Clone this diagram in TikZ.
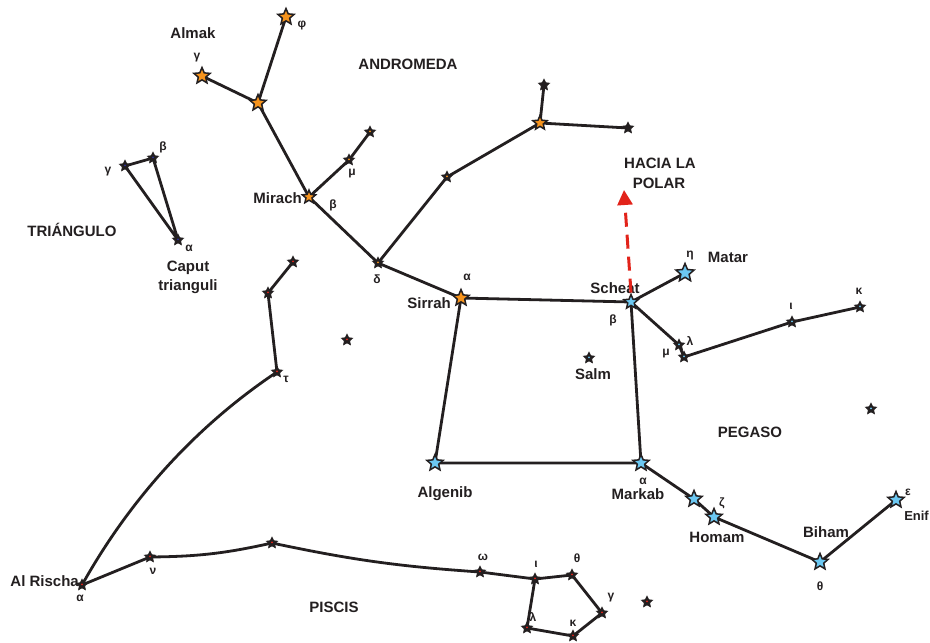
\documentclass[tikz,border=0pt]{standalone}
\usepackage{fontspec}
\setmainfont{Liberation Sans}
\usetikzlibrary{shapes.geometric,arrows.meta,backgrounds}
\definecolor{ink}{HTML}{231F20}
\definecolor{andorange}{HTML}{F7941D}
\definecolor{pegblue}{HTML}{6CC8F2}
\definecolor{arrowred}{HTML}{E2231A}
\definecolor{tridot}{HTML}{2E3192}
\begin{document}
\begin{tikzpicture}[x=1pt,y=-1pt,
  conn/.style={draw=ink, line width=2.8pt, line join=round, line cap=round},
  bigstar/.style={star, star points=5, star point ratio=2.2, minimum size=#1, inner sep=0pt, draw=ink, line width=1.5pt},
  andstar/.style={bigstar=#1, fill=andorange}, andstar/.default=17pt,
  pegstar/.style={bigstar=#1, fill=pegblue}, pegstar/.default=17pt,
  minor/.style={star, star points=5, star point ratio=2, minimum size=11pt, inner sep=0pt, fill=ink, draw=ink, line width=1pt,
    path picture={\fill[#1] (path picture bounding box.center) circle (1pt);}},
  lbl/.style={font=\fontsize{15}{15}\selectfont\bfseries, inner sep=0pt, text=ink},
  grk/.style={font=\fontsize{12}{12}\selectfont\bfseries, inner sep=0pt, text=ink},
  polar/.style={draw=arrowred, line width=3pt, dash pattern=on 14pt off 8pt, -{Triangle[length=15pt,width=15pt]}}
]
\useasboundingbox (0,0) rectangle (930,643);

% ---------------- Andromeda
\node[andstar] (sirrah) at (461,298) {};
\node[minor=andorange] (andD) at (378,263) {};
\node[andstar=14pt] (mirach) at (309,197) {};
\node[minor=andorange] (andMu) at (349,160) {};
\node[minor=andorange] (andNu) at (370,132) {};
\node[andstar] (and1) at (258,103) {};
\node[andstar] (almak) at (202,76) {};
\node[andstar] (andPhi) at (286,17) {};
\node[minor=andorange] (andPi) at (447,177) {};
\node[andstar=15pt] (andO) at (540,123) {};
\node[minor=ink] (andK) at (544,85) {};
\node[minor=ink] (andI) at (628,128) {};

\node[lbl] (tAlmak) at (193,33) {Almak};
\node[grk] (gAlmak) at (197,58) {γ};
\node[grk] (gPhi) at (302,26) {φ};
\node[lbl,anchor=east] (tMirach) at (302,198) {Mirach};
\node[grk] (gMirach) at (333,205) {β};
\node[grk] (gMu) at (352,174) {μ};
\node[grk] (gD) at (377,279) {δ};
\node[grk] (gSirrah) at (467,277) {α};
\node[lbl,anchor=east] (tSirrah) at (451,303) {Sirrah};
\node[lbl] (tAnd) at (408,64) {ANDROMEDA};

% ---------------- Pegasus
\node[pegstar=15pt] (scheat) at (631,302) {};
\node[pegstar=19pt] (matar) at (685,273) {};
\node[pegstar] (markab) at (641,463) {};
\node[pegstar] (algenib) at (435,463) {};
\node[minor=pegblue] (salm) at (589,358) {};
\node[pegstar] (pegXi) at (694,499) {};
\node[pegstar] (homam) at (714,517) {};
\node[pegstar] (biham) at (820,562) {};
\node[pegstar] (enif) at (896,500) {};
\node[minor=pegblue] (pegLam) at (679,345) {};
\node[minor=pegblue] (pegMu) at (684,357) {};
\node[minor=pegblue] (pegI) at (792,322) {};
\node[minor=pegblue] (pegK) at (860,307) {};
\node[minor=pegblue] (pegLone) at (871,409) {};

\node[lbl] (tScheat) at (615,288) {Scheat};
\node[grk] (gScheat) at (613,320) {β};
\node[grk] (gMatar) at (690,256) {η};
\node[lbl] (tMatar) at (728,257) {Matar};
\node[grk] (gLam) at (666,354) {μ};
\node[grk] (gMu2) at (690,341) {λ};
\node[grk] (gI) at (791,306) {ι};
\node[grk] (gK) at (859,291) {κ};
\node[lbl] (tSalm) at (593,374) {Salm};
\node[lbl] (tPeg) at (750,432) {PEGASO};
\node[grk] (gMarkab) at (643,481) {α};
\node[lbl] (tMarkab) at (638,494) {Markab};
\node[lbl] (tAlgenib) at (445,494) {Algenib};
\node[grk] (gHomam) at (722,503) {ζ};
\node[lbl] (tHomam) at (717,537) {Homam};
\node[lbl] (tBiham) at (826,532) {Biham};
\node[grk] (gBiham) at (820,586) {θ};
\node[grk] (gEnif) at (908,492) {ε};
\node[lbl,font=\fontsize{13}{13}\selectfont\bfseries,anchor=east] (tEnif) at (929,516) {Enif};

\coordinate (polarend) at (624,190);
\node[lbl] (tHacia) at (660,163) {HACIA LA};
\node[lbl] (tPolar) at (659,183) {POLAR};

% ---------------- Piscis
\node[minor=arrowred] (alrischa) at (82,585) {};
\node[minor=arrowred] (pscNu) at (150,557) {};
\node[minor=arrowred] (pscM) at (272,543) {};
\node[minor=arrowred] (pscW) at (480,572) {};
\node[minor=arrowred] (pscI) at (535,579) {};
\node[minor=arrowred] (pscTh) at (572,575) {};
\node[minor=arrowred] (pscG) at (602,613) {};
\node[minor=arrowred] (pscK) at (573,636) {};
\node[minor=arrowred] (pscL) at (527,628) {};
\node[minor=arrowred] (pscLone) at (647,602) {};
\node[minor=arrowred] (pscLone2) at (347,340) {};
\node[minor=arrowred] (pscT) at (277,372) {};
\node[minor=arrowred] (pscU) at (268,293) {};
\node[minor=arrowred] (pscPhi) at (293,262) {};

\node[lbl,anchor=east] (tAlr) at (79,581) {Al Rischa};
\node[grk] (gAlr) at (80,598) {α};
\node[grk] (gNu) at (153,571) {ν};
\node[grk] (gW) at (483,557) {ω};
\node[grk] (gI2) at (536,564) {ι};
\node[grk] (gTh) at (577,558) {θ};
\node[grk] (gG) at (611,598) {γ};
\node[grk] (gK2) at (573,623) {κ};
\node[grk] (gL) at (533,617) {λ};
\node[grk] (gT) at (286,379) {τ};
\node[lbl] (tPsc) at (334,607) {PISCIS};

% ---------------- Triangulum
\node[minor=tridot] (triG) at (125,166) {};
\node[minor=tridot] (triB) at (153,158) {};
\node[minor=tridot] (triA) at (178,240) {};
\node[grk] (gTriG) at (108,172) {γ};
\node[grk] (gTriB) at (163,147) {β};
\node[grk] (gTriA) at (189,248) {α};
\node[lbl] (tCaput) at (188,268) {Caput};
\node[lbl] (tTrianguli) at (188,287) {trianguli};
\node[lbl] (tTri) at (72,230) {TRIÁNGULO};

% ---------------- connectors
\begin{scope}[on background layer]
  % Andromeda
  \draw[conn] (sirrah.center) -- (andD.center) -- (mirach.center) -- (and1.center) -- (almak.center);
  \draw[conn] (and1.center) -- (andPhi.center);
  \draw[conn] (mirach.center) -- (andMu.center) -- (andNu.center);
  \draw[conn] (andD.center) -- (andPi.center) -- (andO.center) -- (andK.center);
  \draw[conn] (andO.center) -- (andI.center);
  % Pegasus
  \draw[conn] (sirrah.center) -- (scheat.center) -- (markab.center) -- (algenib.center) -- (sirrah.center);
  \draw[conn] (scheat.center) -- (matar.center);
  \draw[conn] (scheat.center) -- (pegLam.center) -- (pegMu.center) -- (pegI.center) -- (pegK.center);
  \draw[conn] (markab.center) -- (pegXi.center) -- (homam.center) -- (biham.center) -- (enif.center);
  % Piscis
  \draw[conn] (alrischa.center) -- (pscNu.center) to[bend right=6] (pscM.center) to[bend right=4] (pscW.center) -- (pscI.center) -- (pscTh.center) -- (pscG.center) -- (pscK.center) -- (pscL.center) -- (pscI.center);
  \draw[conn] (alrischa.center) .. controls (135,490) and (205,420) .. (pscT.center) -- (pscU.center) -- (pscPhi.center);
  % Triangulum
  \draw[conn] (triA.center) -- (triG.center) -- (triB.center) -- (triA.center);
\end{scope}
\draw[polar] (scheat.north) -- (polarend);
\end{tikzpicture}
\end{document}
